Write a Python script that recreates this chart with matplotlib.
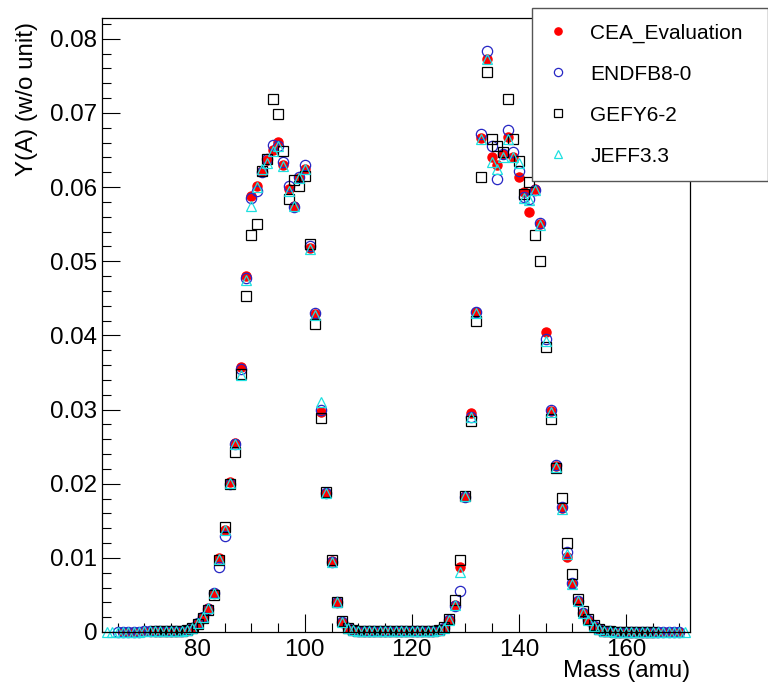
import numpy as np
import matplotlib
matplotlib.use("Agg")
import matplotlib.pyplot as plt
from matplotlib.ticker import MultipleLocator

plt.rcParams['font.family'] = ['Liberation Sans', 'DejaVu Sans']

# fission yields per mass number
cea_start = 66
cea_yield = [
    0.00003, 0.00004, 0.00005, 0.00006, 0.00008, 0.0001, 0.0001, 0.0001, 0.0001, 0.0001, 0.0001,
    0.0002, 0.0003, 0.0006, 0.0012, 0.0020, 0.0032, 0.0053, 0.0100, 0.0138, 0.0202,
    0.0255, 0.0357, 0.0480, 0.0588, 0.0601, 0.0622, 0.0636, 0.0650, 0.0661, 0.0630,
    0.0598, 0.0574, 0.0612, 0.0625, 0.0518, 0.0429, 0.0297, 0.0188, 0.0096, 0.0040,
    0.0014, 0.0006, 0.0003, 0.0002,
    0.00015, 0.0001, 0.0001, 0.0001, 0.0001, 0.0001, 0.0001, 0.0001, 0.0001, 0.0001,
    0.0001, 0.0001, 0.00015, 0.0002,
    0.0003, 0.0006, 0.0016, 0.0036, 0.0087, 0.0183, 0.0296, 0.0431, 0.0666, 0.0773,
    0.0641, 0.0630, 0.0644, 0.0668, 0.0640, 0.0613, 0.0593, 0.0567, 0.0597, 0.0550,
    0.0404, 0.0298, 0.0224, 0.0167, 0.0101, 0.0065, 0.0042, 0.0026, 0.0016, 0.0008,
    0.0004, 0.0002, 0.0001, 0.00006, 0.00004, 0.00003,
    0.00002, 0.00002, 0.00002, 0.00001, 0.00001, 0.00001, 0.00001, 0.00001, 0.00001, 0.00001,
]

endf_start = 65
endf_yield = [
    0.00002, 0.00003, 0.00004, 0.00005, 0.00006, 0.00008, 0.0001, 0.0001, 0.0001, 0.0001, 0.0001, 0.0001,
    0.0002, 0.0003, 0.0006, 0.0012, 0.0020, 0.0031, 0.0053, 0.0088, 0.0130, 0.0200,
    0.0253, 0.0355, 0.0477, 0.0585, 0.0595, 0.0620, 0.0638, 0.0657, 0.0655, 0.0634,
    0.0602, 0.0573, 0.0614, 0.0630, 0.0520, 0.0430, 0.0300, 0.0188, 0.0095, 0.0040,
    0.0014, 0.0006, 0.0003, 0.0002,
    0.00015, 0.0001, 0.0001, 0.0001, 0.0001, 0.0001, 0.0001, 0.0001, 0.0001, 0.0001,
    0.0001, 0.0001, 0.00015, 0.0002,
    0.0003, 0.0006, 0.0016, 0.0035, 0.0055, 0.0182, 0.0290, 0.0432, 0.0671, 0.0783,
    0.0655, 0.0611, 0.0645, 0.0677, 0.0647, 0.0622, 0.0586, 0.0584, 0.0596, 0.0551,
    0.0395, 0.0299, 0.0225, 0.0168, 0.0108, 0.0066, 0.0042, 0.0026, 0.0016, 0.0008,
    0.0004, 0.0002, 0.0001, 0.00006, 0.00004, 0.00003,
    0.00002, 0.00002, 0.00002, 0.00001, 0.00001, 0.00001, 0.00001, 0.00001, 0.00001, 0.00001,
]

gefy_start = 72
gefy_yield = [
    0.0001, 0.0001, 0.0001, 0.0001, 0.0001,
    0.0002, 0.0003, 0.0005, 0.0011, 0.0019, 0.0030, 0.0050, 0.0097, 0.0141, 0.0199,
    0.0243, 0.0348, 0.0453, 0.0536, 0.0550, 0.0622, 0.0638, 0.0719, 0.0699, 0.0649,
    0.0584, 0.0610, 0.0601, 0.0615, 0.0523, 0.0415, 0.0288, 0.0189, 0.0097, 0.0041,
    0.0015, 0.0006, 0.0003, 0.0002,
    0.00015, 0.0001, 0.0001, 0.0001, 0.0001, 0.0001, 0.0001, 0.0001, 0.0001, 0.0001,
    0.0001, 0.0001, 0.00015, 0.0002,
    0.0003, 0.0007, 0.0017, 0.0043, 0.0097, 0.0184, 0.0284, 0.0420, 0.0613, 0.0755,
    0.0665, 0.0656, 0.0647, 0.0719, 0.0665, 0.0635, 0.0590, 0.0607, 0.0535, 0.0500,
    0.0384, 0.0287, 0.0221, 0.0181, 0.0120, 0.0078, 0.0045, 0.0028, 0.0017, 0.0009,
    0.0004, 0.0002, 0.0001, 0.00006, 0.00004, 0.00003,
    0.00002, 0.00002, 0.00002, 0.00001, 0.00001,
]

jeff_start = 63
jeff_yield = [
    0.00001, 0.00002, 0.00002, 0.00003, 0.00004, 0.00005, 0.00006, 0.00008, 0.0001, 0.0001, 0.0001, 0.0001, 0.0001, 0.0001,
    0.0002, 0.0003, 0.0006, 0.0012, 0.0020, 0.0032, 0.0053, 0.0098, 0.0137, 0.0201,
    0.0254, 0.0347, 0.0475, 0.0575, 0.0600, 0.0625, 0.0632, 0.0648, 0.0655, 0.0628,
    0.0595, 0.0575, 0.0612, 0.0625, 0.0517, 0.0428, 0.0310, 0.0188, 0.0094, 0.0040,
    0.0014, 0.0006, 0.0003, 0.0002,
    0.00015, 0.0001, 0.0001, 0.0001, 0.0001, 0.0001, 0.0001, 0.0001, 0.0001, 0.0001,
    0.0001, 0.0001, 0.00015, 0.0002,
    0.0003, 0.0006, 0.0016, 0.0036, 0.0081, 0.0183, 0.0290, 0.0430, 0.0665, 0.0773,
    0.0634, 0.0625, 0.0640, 0.0665, 0.0640, 0.0633, 0.0585, 0.0582, 0.0596, 0.0549,
    0.0392, 0.0297, 0.0222, 0.0166, 0.0105, 0.0065, 0.0042, 0.0026, 0.0016, 0.0008,
    0.0004, 0.0002, 0.0001, 0.00006, 0.00004, 0.00003,
    0.00002, 0.00002, 0.00002, 0.00001, 0.00001, 0.00001, 0.00001, 0.00001, 0.00001, 0.00001, 0.00001,
]

series = [
    ('CEA_Evaluation', cea_start, cea_yield, 'o', '#ff0000', True, 6.6),
    ('ENDFB8-0', endf_start, endf_yield, 'o', '#2626c4', False, 7.4),
    ('GEFY6-2', gefy_start, gefy_yield, 's', 'black', False, 7.2),
    ('JEFF3.3', jeff_start, jeff_yield, '^', '#1ee0e0', False, 7.6),
]

fig = plt.figure(figsize=(7.68, 6.87), dpi=100)
ax = fig.add_axes([102 / 768, 1 - 632 / 687, 588 / 768, 614 / 687])

for name, start, vals, mk, col, filled, ms in series:
    mass = np.arange(start, start + len(vals))
    ax.plot(mass, vals, linestyle='none', marker=mk, markersize=ms,
            markerfacecolor=col if filled else 'none', markeredgecolor=col,
            markeredgewidth=0.9, label=name, clip_on=False)

ax.set_xlim(62.1, 172)
ax.set_ylim(0, 0.0828)

ax.xaxis.set_major_locator(MultipleLocator(20))
ax.xaxis.set_minor_locator(MultipleLocator(5))
ax.yaxis.set_major_locator(MultipleLocator(0.01))
ax.yaxis.set_minor_locator(MultipleLocator(0.002))
ax.yaxis.set_major_formatter(plt.FuncFormatter(lambda v, p: '0' if abs(v) < 1e-9 else '%g' % v))

ax.tick_params(which='both', direction='in', top=False, right=False, width=0.8, labelsize=17.4)
ax.tick_params(which='major', length=13)
ax.tick_params(which='minor', length=6.5)
ax.tick_params(axis='x', pad=5)
ax.tick_params(axis='y', pad=3.5)
for sp in ax.spines.values():
    sp.set_linewidth(0.9)

ax.set_xlabel('Mass (amu)', fontsize=17.4, ha='right')
ax.xaxis.set_label_coords(1.0, -0.045)
ax.set_ylabel('Y(A) (w/o unit)', fontsize=17.4, ha='right')
ax.yaxis.set_label_coords(-0.108, 0.993)

leg = ax.legend(loc='upper left', bbox_to_anchor=(532 / 768, 1 - 170 / 687, 236 / 768, 162 / 687),
                bbox_transform=fig.transFigure, mode='expand', fontsize=15,
                frameon=True, fancybox=False, shadow=False, borderpad=0.75,
                labelspacing=1.05, handlelength=1.0, handletextpad=1.05,
                markerscale=0.8, borderaxespad=0)
leg.get_frame().set_edgecolor('#555555')
leg.get_frame().set_linewidth(1.0)
leg.get_frame().set_alpha(1)

fig.savefig('out.png', dpi=100)
